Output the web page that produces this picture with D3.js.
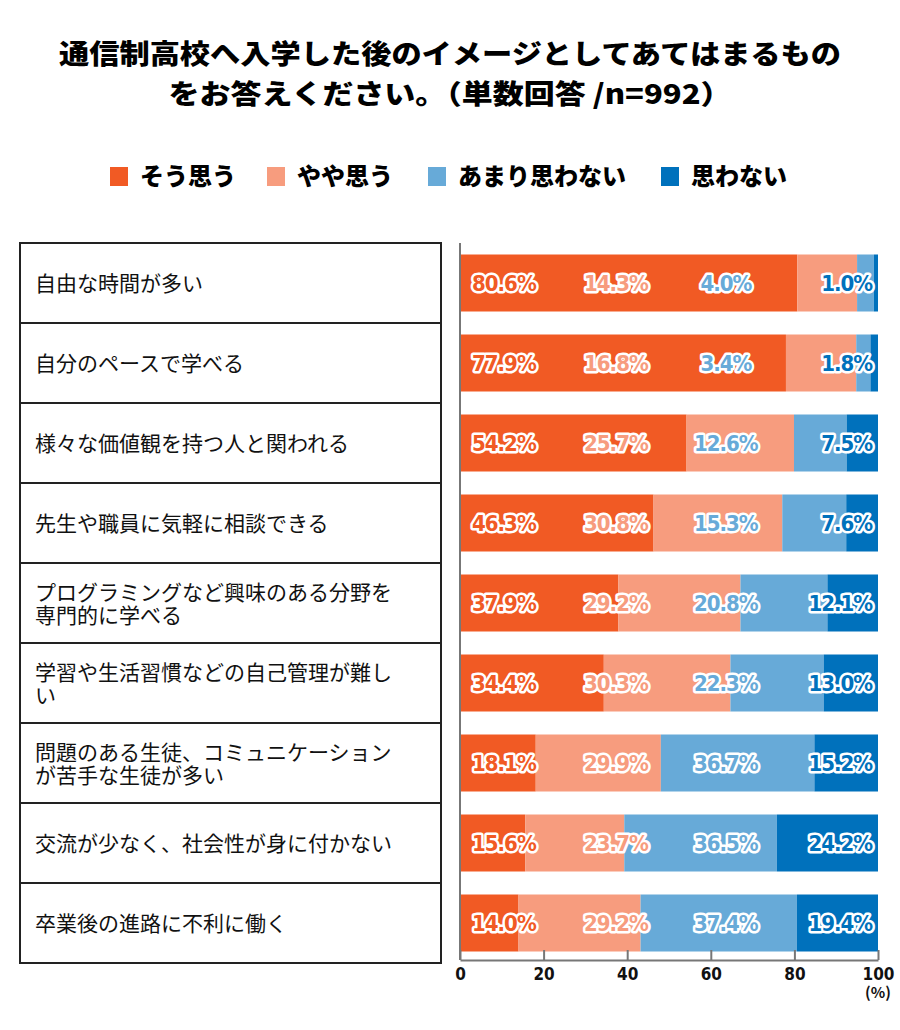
<!DOCTYPE html>
<html>
<head>
<meta charset="utf-8">
<script src="https://cdn.jsdelivr.net/npm/d3@7"></script>
<style>
	body { margin: 0; background: #fff; }
	text { font-family: "Noto Sans CJK JP", "Noto Sans", sans-serif; }
	.val { font-family: "DejaVu Sans Condensed", "DejaVu Sans", sans-serif; font-weight: bold; font-stretch: condensed; }
	.axis text { font-family: "DejaVu Sans Condensed", "DejaVu Sans", sans-serif; font-weight: bold; }
</style>
</head>
<body>
<div class="chart"></div>
<script>
// data
const titleLines = ['通信制高校へ入学した後のイメージとしてあてはまるもの', 'をお答えください。（単数回答 /n=992）'];
const seriesNames = ['そう思う', 'やや思う', 'あまり思わない', '思わない'];
const seriesColors = ['#f15a24', '#f79c7e', '#67aad8', '#0071bc'];
const categories = [
	['自由な時間が多い'],
	['自分のペースで学べる'],
	['様々な価値観を持つ人と関われる'],
	['先生や職員に気軽に相談できる'],
	['プログラミングなど興味のある分野を', '専門的に学べる'],
	['学習や生活習慣などの自己管理が難し', 'い'],
	['問題のある生徒、コミュニケーション', 'が苦手な生徒が多い'],
	['交流が少なく、社会性が身に付かない'],
	['卒業後の進路に不利に働く']
];
const soOmou = [80.6, 77.9, 54.2, 46.3, 37.9, 34.4, 18.1, 15.6, 14.0];
const yayaOmou = [14.3, 16.8, 25.7, 30.8, 29.2, 30.3, 29.9, 23.7, 29.2];
const amariOmowanai = [4.0, 3.4, 12.6, 15.3, 20.8, 22.3, 36.7, 36.5, 37.4];
const omowanai = [1.0, 1.8, 7.5, 7.6, 12.1, 13.0, 15.2, 24.2, 19.4];
const xTicks = [0, 20, 40, 60, 80, 100];

let w = 900;
let h = 1030;

let svg = d3.select('.chart').append('svg').attr('width', w).attr('height', h);

// title
svg
	.selectAll('.title')
	.data(titleLines)
	.enter()
	.append('text')
	.attr('class', 'title')
	.attr('x', 450)
	.attr('y', (d, i) => 64 + i * 40)
	.attr('text-anchor', 'middle')
	.attr('font-size', '27px')
	.attr('font-weight', 900)
	.attr('textLength', (d, i) => (i == 0 ? 782 : 563))
	.attr('lengthAdjust', 'spacingAndGlyphs')
	.text((d) => d);

// legend
let legendX = [110, 267, 428, 661];
let legend = svg
	.selectAll('.legend')
	.data(seriesNames)
	.enter()
	.append('g')
	.attr('class', 'legend')
	.attr('transform', (d, i) => 'translate(' + legendX[i] + ',167)');
legend.append('rect').attr('width', 18).attr('height', 19).attr('fill', (d, i) => seriesColors[i]);
legend
	.append('text')
	.attr('x', 30)
	.attr('y', 18)
	.attr('font-size', '24px')
	.attr('font-weight', 900)
	.text((d) => d);

// rows
let rowIdx = d3.range(categories.length);
let rowScale = d3.scaleBand().domain(rowIdx).range([ 243, 963 ]);
let yScale = d3.scaleBand().domain(rowIdx).range([ 243, 963 ]).paddingInner(0.2875).paddingOuter(0.14375);
let xScale = d3.scaleLinear().domain([ 0, 100 ]).range([ 460, 878 ]);

// category boxes
let cat = svg.selectAll('.cat').data(categories).enter().append('g').attr('class', 'cat');
cat
	.append('rect')
	.attr('x', 20)
	.attr('y', (d, i) => rowScale(i))
	.attr('width', 421)
	.attr('height', rowScale.bandwidth())
	.attr('fill', 'none')
	.attr('stroke', '#222')
	.attr('stroke-width', 2);
// one text per box, extra lines as tspans
cat
	.append('text')
	.attr('font-size', '21px')
	.attr('fill', '#111')
	.each(function(d, i) {
		let t = d3.select(this);
		let top = rowScale(i) + rowScale.bandwidth() / 2 + 8 - (d.length - 1) / 2 * 23;
		d.forEach((line, j) => {
			t.append('tspan').attr('x', 35).attr('y', top + j * 23).text(line);
		});
	});

// stacked bars
let table = categories.map((c, i) => ({
	i: i,
	v: [ soOmou[i], yayaOmou[i], amariOmowanai[i], omowanai[i] ]
}));
let segs = [];
table.forEach((r) => {
	let total = d3.sum(r.v);
	let acc = 0;
	r.v.forEach((v, k) => {
		segs.push({ i: r.i, k: k, v: v, x0: acc / total * 100, x1: (acc + v) / total * 100 });
		acc += v;
	});
});

svg
	.selectAll('.bar')
	.data(segs)
	.enter()
	.append('rect')
	.attr('class', 'bar')
	.attr('x', (d) => xScale(d.x0))
	.attr('y', (d) => yScale(d.i))
	.attr('width', (d) => xScale(d.x1) - xScale(d.x0))
	.attr('height', yScale.bandwidth())
	.attr('fill', (d) => seriesColors[d.k]);

// value labels sit in fixed columns
let colX = [ xScale(10.5), xScale(37.3), xScale(63.6), xScale(98.6) ];
let colAnchor = [ 'middle', 'middle', 'middle', 'end' ];
svg
	.selectAll('.val')
	.data(segs)
	.enter()
	.append('text')
	.attr('class', 'val')
	.attr('x', (d) => colX[d.k])
	.attr('y', (d) => yScale(d.i) + yScale.bandwidth() / 2 + 8)
	.attr('text-anchor', (d) => colAnchor[d.k])
	.attr('font-size', '22px')
	.attr('letter-spacing', '-1px')
	.attr('fill', (d) => seriesColors[d.k])
	.attr('stroke', '#fff')
	.attr('stroke-width', 5)
	.attr('stroke-linejoin', 'round')
	.attr('paint-order', 'stroke')
	.text((d) => d.v.toFixed(1) + '%');

// axes
svg
	.append('line')
	.attr('x1', xScale(0))
	.attr('x2', xScale(0))
	.attr('y1', 243)
	.attr('y2', 960)
	.attr('stroke', '#777')
	.attr('stroke-width', 2);

let xAxis = svg
	.append('g')
	.attr('class', 'axis')
	.attr('transform', 'translate(0,960)')
	.call(d3.axisBottom(xScale).tickValues(xTicks).tickSizeInner(-10).tickSizeOuter(0).tickPadding(8));
xAxis.select('.domain').attr('stroke', '#777').attr('stroke-width', 2);
xAxis.selectAll('.tick line').attr('stroke', '#777').attr('stroke-width', 2);
xAxis.selectAll('.tick text').attr('font-size', '17px').attr('fill', '#111');

svg
	.append('text')
	.attr('x', xScale(100))
	.attr('y', 998)
	.attr('text-anchor', 'middle')
	.attr('font-size', '15px')
	.attr('font-weight', 'bold')
	.attr('fill', '#111')
	.text('(%)');
</script>
</body>
</html>
